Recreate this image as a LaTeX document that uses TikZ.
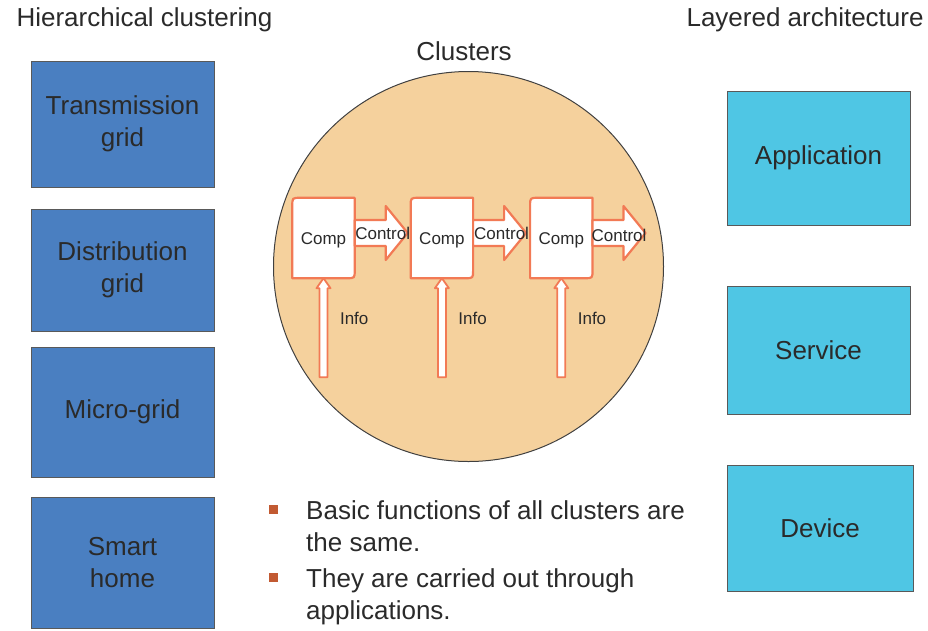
\documentclass[tikz,border=0pt]{standalone}
\usepackage{fontspec}
\setmainfont{Liberation Sans}
\usepackage{tikz}
\usetikzlibrary{calc,positioning}
\definecolor{gridblue}{HTML}{4A7FC1}
\definecolor{layercyan}{HTML}{4FC6E4}
\definecolor{clusterfill}{HTML}{F5D19D}
\definecolor{comporange}{HTML}{F27A55}
\definecolor{bulletbrown}{HTML}{C25A32}
\definecolor{txt}{HTML}{2A2A2A}

\begin{document}
\begin{tikzpicture}[x=1pt,y=1pt,
  every node/.style={text=txt},
  bigtext/.style={font=\fontsize{26}{32}\selectfont},
  smalltext/.style={font=\fontsize{17}{20}\selectfont},
  gridbox/.style={bigtext,draw=black!65,fill=gridblue,minimum width=183pt,align=center,inner sep=0pt},
  layerbox/.style={bigtext,draw=black!65,fill=layercyan,minimum width=183pt,align=center,inner sep=0pt},
  comp/.style={smalltext,minimum width=62pt,minimum height=80pt,inner sep=0pt},
  compline/.style={draw=comporange,line width=2.2pt,fill=white,line join=round},
  bulletsq/.style={fill=bulletbrown,minimum size=9pt,inner sep=0pt}]
\useasboundingbox (0,0) rectangle (928,-630);

\node[bigtext,anchor=west] (lefttitle) at (13,-20) {Hierarchical clustering};
\node[bigtext,anchor=west] (righttitle) at (683,-20) {Layered architecture};
\node[bigtext] (midtitle) at (464,-51) {Clusters};

\node[gridbox,minimum height=126pt] (tg) at (122.5,-124) {Transmission\\grid};
\node[gridbox,minimum height=122pt] (dg) at (122.5,-270) {Distribution\\grid};
\node[gridbox,minimum height=130pt] (mg) at (122.5,-412) {Micro-grid};
\node[gridbox,minimum height=131pt] (sh) at (122.5,-562.5) {Smart\\home};

\node[layerbox,minimum height=134pt] (app) at (818.5,-158) {Application};
\node[layerbox,minimum height=128pt] (srv) at (818.5,-350) {Service};
\node[layerbox,minimum height=126pt,minimum width=186pt] (dev) at (820,-528) {Device};

\node[circle,draw=black!75,fill=clusterfill,line width=1pt,minimum size=390pt,inner sep=0pt] (cl) at (468.5,-266.5) {};

\node[comp] (c1) at (323.5,-238) {};
\node[comp,right=56pt of c1] (c2) {};
\node[comp,right=57pt of c2] (c3) {};

\draw[compline] (c1.north east) -- ($(c1.south east)+(0,8)$) .. controls (c1.south east) .. ($(c1.south east)+(-8,0)$) -- (c1.south west) -- ($(c1.north west)+(0,-8)$) .. controls (c1.north west) .. ($(c1.north west)+(8,0)$) -- cycle;
\draw[compline] (c2.north east) -- ($(c2.south east)+(0,8)$) .. controls (c2.south east) .. ($(c2.south east)+(-8,0)$) -- (c2.south west) -- ($(c2.north west)+(0,-8)$) .. controls (c2.north west) .. ($(c2.north west)+(8,0)$) -- cycle;
\draw[compline] (c3.north east) -- ($(c3.south east)+(0,8)$) .. controls (c3.south east) .. ($(c3.south east)+(-8,0)$) -- (c3.south west) -- ($(c3.north west)+(0,-8)$) .. controls (c3.north west) .. ($(c3.north west)+(8,0)$) -- cycle;
\node[smalltext] (c1t) at ($(c1.center)+(0,-2)$) {Comp};
\node[smalltext] (c2t) at ($(c2.center)+(0,-2)$) {Comp};
\node[smalltext] (c3t) at ($(c3.center)+(0,-2)$) {Comp};

\draw[compline] ($(c1.east)+(0,18)$) -- ++(31,0) -- ++(0,14) -- ++(22,-27) -- ++(-22,-27) -- ++(0,14) -- ++(-31,0) -- cycle;
\draw[compline] ($(c2.east)+(0,18)$) -- ++(31,0) -- ++(0,14) -- ++(22,-27) -- ++(-22,-27) -- ++(0,14) -- ++(-31,0) -- cycle;
\draw[compline] ($(c3.east)+(0,18)$) -- ++(31,0) -- ++(0,14) -- ++(22,-27) -- ++(-22,-27) -- ++(0,14) -- ++(-31,0) -- cycle;
\coordinate (c3out) at ($(c3.east)+(53,5)$);
\node[smalltext] (k1) at ($(c1.east)!0.5!(c2.west)+(0,5)$) {Control};
\node[smalltext] (k2) at ($(c2.east)!0.5!(c3.west)+(0,5)$) {Control};
\node[smalltext] (k3) at ($(c3.east)!0.5!(c3out)$) {Control};

\coordinate (i1) at ($(c1.south)+(0,-99)$);
\coordinate (i2) at ($(c2.south)+(0,-99)$);
\coordinate (i3) at ($(c3.south)+(0,-99)$);
\draw[compline,line width=1.8pt] ($(i1)+(-4,0)$) -- ++(0,89) -- ++(-3,0) -- (c1.south) -- ($(i1)+(7,89)$) -- ++(-3,0) -- ++(0,-89) -- cycle;
\draw[compline,line width=1.8pt] ($(i2)+(-4,0)$) -- ++(0,89) -- ++(-3,0) -- (c2.south) -- ($(i2)+(7,89)$) -- ++(-3,0) -- ++(0,-89) -- cycle;
\draw[compline,line width=1.8pt] ($(i3)+(-4,0)$) -- ++(0,89) -- ++(-3,0) -- (c3.south) -- ($(i3)+(7,89)$) -- ++(-3,0) -- ++(0,-89) -- cycle;
\node[smalltext,anchor=west] (f1) at ($(c1.south)+(13,-40)$) {Info};
\node[smalltext,anchor=west] (f2) at ($(c2.south)+(13,-40)$) {Info};
\node[smalltext,anchor=west] (f3) at ($(c3.south)+(13,-40)$) {Info};

\node[bulletsq] (b1) at (273,-509) {};
\node[bulletsq] (b2) at (273,-577) {};
\node[bigtext,anchor=west,align=left,inner sep=0pt] (p1) at (306,-526) {Basic functions of all clusters are\\the same.};
\node[bigtext,anchor=west,align=left,inner sep=0pt] (p2) at (306,-596.5) {They are carried out through\\applications.};
\end{tikzpicture}
\end{document}
